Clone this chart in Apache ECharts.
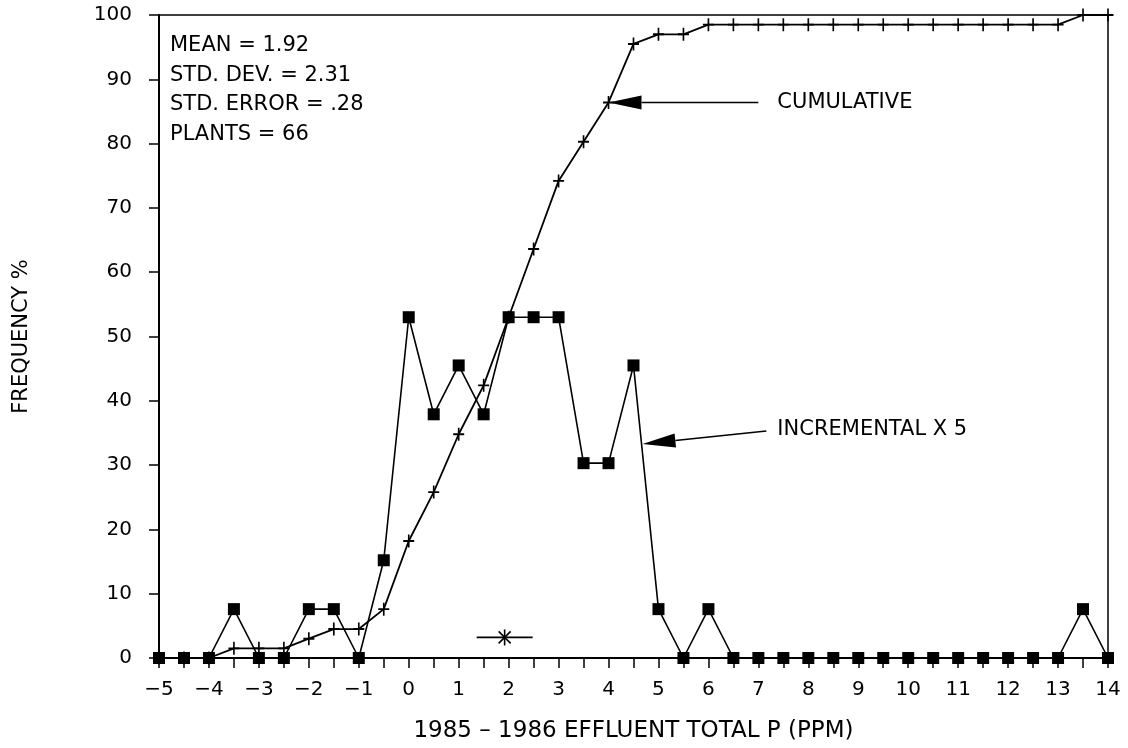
<!DOCTYPE html>
<html>
<head>
<meta charset="utf-8">
<script src="https://cdn.jsdelivr.net/npm/echarts@6/dist/echarts.min.js"></script>
<style>
html,body{margin:0;padding:0;background:#fff;}
#chart{width:1128px;height:748px;}
</style>
</head>
<body>
<div id="chart"></div>
<script>
// ---- data ----
const xPositions = [-5,-4.5,-4,-3.5,-3,-2.5,-2,-1.5,-1,-0.5,0,0.5,1,1.5,2,2.5,3,3.5,4,4.5,5,5.5,6,6.5,7,7.5,8,8.5,9,9.5,10,10.5,11,11.5,12,12.5,13,13.5,14];
const incrementalX5 = [0,0,0,7.6,0,0,7.6,7.6,0,15.2,53,37.9,45.5,37.9,53,53,53,30.3,30.3,45.5,7.6,0,7.6,0,0,0,0,0,0,0,0,0,0,0,0,0,0,7.6,0];
const cumulative = [0,0,0,1.5,1.5,1.5,3.0,4.5,4.5,7.6,18.2,25.8,34.8,42.4,53.0,63.6,74.2,80.3,86.4,95.5,97.0,97.0,98.5,98.5,98.5,98.5,98.5,98.5,98.5,98.5,98.5,98.5,98.5,98.5,98.5,98.5,98.5,100,100];
const statsLines = ['MEAN = 1.92','STD. DEV. = 2.31','STD. ERROR = .28','PLANTS = 66'];
// mean marker: [mean, y, low, high]
const meanMarker = [[1.92, 3.2, 1.36, 2.48]];
// arrows: [tailX, tailY, tipX, tipY, textX, textY]
const arrowLabels = ['CUMULATIVE', 'INCREMENTAL X 5'];
const arrows = [[7.0, 86.4, 4.0, 86.4, 7.38, 86.4], [7.16, 35.3, 4.68, 33.3, 7.38, 35.5]];
const xAxisTitle = '1985 \u2013 1986 EFFLUENT TOTAL P (PPM)';
const yAxisTitle = 'FREQUENCY %';

const FONT = 'DejaVu Sans';
const plusPath = 'path://M-0.9,-6L0.9,-6L0.9,-0.9L6,-0.9L6,0.9L0.9,0.9L0.9,6L-0.9,6L-0.9,0.9L-6,0.9L-6,-0.9L-0.9,-0.9Z';

const chart = echarts.init(document.getElementById('chart'), null, {renderer:'canvas'});
const option = {
  animation: false,
  backgroundColor: '#fff',
  grid: {left:159, right:20, top:15, bottom:88, show:true, borderColor:'#000', borderWidth:1.5, backgroundColor:'transparent'},
  xAxis: {
    type:'value', min:-5, max:14, interval:0.5,
    name: xAxisTitle, nameLocation:'middle', nameGap:62,
    nameTextStyle:{fontFamily:FONT, fontSize:23, color:'#000'},
    axisLine:{show:true, onZero:false, lineStyle:{color:'#000', width:2}},
    axisTick:{show:true, inside:false, length:10, lineStyle:{color:'#000', width:1.5}},
    axisLabel:{margin:22, fontFamily:FONT, fontSize:20, color:'#000',
      formatter: v => Number.isInteger(v) ? (v < 0 ? '\u2212' + Math.abs(v) : String(v)) : ''},
    splitLine:{show:false}
  },
  yAxis: {
    type:'value', min:0, max:100, interval:10,
    name: yAxisTitle, nameLocation:'middle', nameGap:127, nameRotate:90,
    nameTextStyle:{fontFamily:FONT, fontSize:21, color:'#000'},
    axisLine:{show:true, onZero:false, lineStyle:{color:'#000', width:2}},
    axisTick:{show:true, inside:false, length:10, lineStyle:{color:'#000', width:1.5}},
    axisLabel:{margin:27, fontFamily:FONT, fontSize:20, color:'#000'},
    splitLine:{show:false}
  },
  graphic: [{
    type:'text', left:170, top:31, z:10,
    style:{text: statsLines.join('\n'), font: '21px "' + FONT + '"', lineHeight:29.5, fill:'#000'}
  }],
  series: [
    {
      name:'Cumulative', type:'line', z:2,
      data: xPositions.map((x,i)=>[x, cumulative[i]]),
      symbol: plusPath, symbolSize:[11,13], showAllSymbol:true,
      lineStyle:{color:'#000', width:1.8},
      itemStyle:{color:'#000'}
    },
    {
      name:'Incremental x 5', type:'line', z:3,
      data: xPositions.map((x,i)=>[x, incrementalX5[i]]),
      symbol:'rect', symbolSize:12, showAllSymbol:true,
      lineStyle:{color:'#000', width:1.6},
      itemStyle:{color:'#000'}
    },
    {
      name:'Mean', type:'custom', z:4,
      data: meanMarker,
      renderItem: function(params, api){
        const p = api.coord([api.value(0), api.value(1)]);
        const lo = api.coord([api.value(2), api.value(1)]);
        const hi = api.coord([api.value(3), api.value(1)]);
        const s = {stroke:'#000', lineWidth:1.6};
        return {type:'group', children:[
          {type:'line', shape:{x1:lo[0], y1:lo[1], x2:hi[0], y2:hi[1]}, style:s},
          {type:'line', shape:{x1:p[0], y1:p[1]-8, x2:p[0], y2:p[1]+8}, style:s},
          {type:'line', shape:{x1:p[0]-6, y1:p[1]-6, x2:p[0]+6, y2:p[1]+6}, style:s},
          {type:'line', shape:{x1:p[0]-6, y1:p[1]+6, x2:p[0]+6, y2:p[1]-6}, style:s}
        ]};
      }
    },
    {
      name:'Annotations', type:'custom', z:5,
      data: arrows,
      renderItem: function(params, api){
        const t = api.coord([api.value(0), api.value(1)]);
        const h = api.coord([api.value(2), api.value(3)]);
        const tp = api.coord([api.value(4), api.value(5)]);
        const dx = h[0]-t[0], dy = h[1]-t[1];
        const len = Math.sqrt(dx*dx+dy*dy);
        const ux = dx/len, uy = dy/len;
        const headLen = 33, headW = 7;
        const bx = h[0]-ux*headLen, by = h[1]-uy*headLen;
        const nx = -uy, ny = ux;
        return {type:'group', children:[
          {type:'line', shape:{x1:t[0], y1:t[1], x2:bx, y2:by}, style:{stroke:'#000', lineWidth:1.6}},
          {type:'polygon', shape:{points:[[h[0],h[1]],[bx+nx*headW, by+ny*headW],[bx-nx*headW, by-ny*headW]]}, style:{fill:'#000'}},
          {type:'text', style:{text: arrowLabels[params.dataIndex], x: tp[0], y: tp[1],
            font:'21px "' + FONT + '"', fill:'#000', align:'left', verticalAlign:'middle',
            textAlign:'left', textVerticalAlign:'middle'}}
        ]};
      }
    }
  ]
};
chart.setOption(option);
</script>
</body>
</html>
